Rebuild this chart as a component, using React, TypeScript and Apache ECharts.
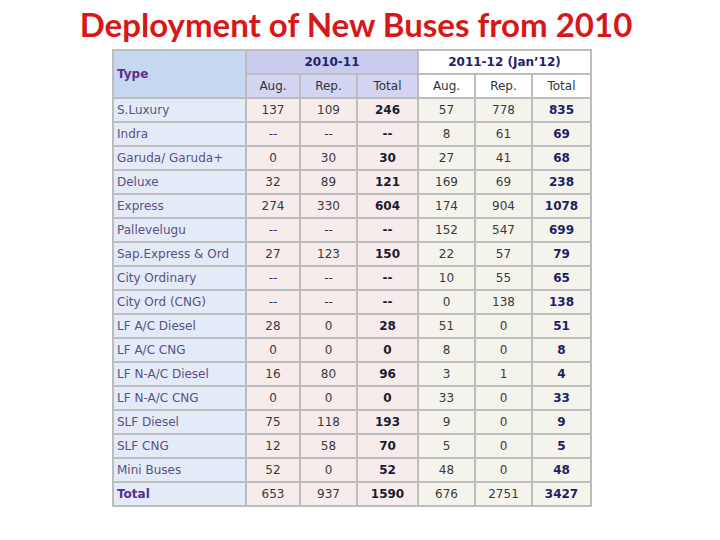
import React, { useEffect, useRef } from "react";
import * as echarts from "echarts";

const titleText = "Deployment of New Buses from 2010";
const periodLabels = ["2010-11", "2011-12 (Jan\u201912)"];
const subLabels = ["Aug.", "Rep.", "Total"];
const typeHeader = "Type";
const types = [
  "S.Luxury",
  "Indra",
  "Garuda/ Garuda+",
  "Deluxe",
  "Express",
  "Pallevelugu",
  "Sap.Express & Ord",
  "City Ordinary",
  "City Ord (CNG)",
  "LF A/C Diesel",
  "LF A/C CNG",
  "LF N-A/C Diesel",
  "LF N-A/C CNG",
  "SLF Diesel",
  "SLF CNG",
  "Mini Buses",
];
const aug1011: (number | null)[] = [137, null, 0, 32, 274, null, 27, null, null, 28, 0, 16, 0, 75, 12, 52];
const rep1011: (number | null)[] = [109, null, 30, 89, 330, null, 123, null, null, 0, 0, 80, 0, 118, 58, 0];
const tot1011: (number | null)[] = [246, null, 30, 121, 604, null, 150, null, null, 28, 0, 96, 0, 193, 70, 52];
const aug1112: (number | null)[] = [57, 8, 27, 169, 174, 152, 22, 10, 0, 51, 8, 3, 33, 9, 5, 48];
const rep1112: (number | null)[] = [778, 61, 41, 69, 904, 547, 57, 55, 138, 0, 0, 1, 0, 0, 0, 0];
const tot1112: (number | null)[] = [835, 69, 68, 238, 1078, 699, 79, 65, 138, 51, 8, 4, 33, 9, 5, 48];
const totalLabel = "Total";
const grandTotals = [653, 937, 1590, 676, 2751, 3427];

// layout (grid units = pixels inside the table grid)
const colEdges = [0, 133, 187, 244, 305, 362, 419, 478];

const FONT = "DejaVu Sans";
const BORDER = "#bdbdbd";

type Cell = {
  c: number;
  r: number;
  cs: number;
  rs: number;
  text: string;
  fill: string;
  color: string;
  bold: boolean;
  left: boolean;
  size: number;
};

const fmt = (v: number | null) => (v === null ? "--" : String(v));

function buildCells(): Cell[] {
  const cells: Cell[] = [];
  cells.push({ c: 0, r: 0, cs: 1, rs: 2, text: typeHeader, fill: "#c6d8f0", color: "#5b2d8e", bold: true, left: true, size: 12 });
  cells.push({ c: 1, r: 0, cs: 3, rs: 1, text: periodLabels[0], fill: "#c9cbee", color: "#1f236b", bold: true, left: false, size: 12 });
  cells.push({ c: 4, r: 0, cs: 3, rs: 1, text: periodLabels[1], fill: "#ffffff", color: "#1f236b", bold: true, left: false, size: 12 });
  subLabels.forEach((s, i) => {
    cells.push({ c: 1 + i, r: 1, cs: 1, rs: 1, text: s, fill: "#d3d5f2", color: "#333333", bold: false, left: false, size: 12 });
    cells.push({ c: 4 + i, r: 1, cs: 1, rs: 1, text: s, fill: "#ffffff", color: "#333333", bold: false, left: false, size: 12 });
  });
  const cols = [aug1011, rep1011, tot1011, aug1112, rep1112, tot1112];
  types.forEach((t, i) => {
    const r = 2 + i;
    cells.push({ c: 0, r, cs: 1, rs: 1, text: t, fill: "#e2ebf7", color: "#5e5082", bold: false, left: true, size: 12 });
    cols.forEach((arr, j) => {
      const isTot = j === 2 || j === 5;
      cells.push({
        c: 1 + j,
        r,
        cs: 1,
        rs: 1,
        text: fmt(arr[i]),
        fill: j < 3 ? "#f6ecec" : "#f4f4ed",
        color: isTot ? (j === 2 ? "#1c1c30" : "#1c1f66") : "#3a3a3a",
        bold: isTot,
        left: false,
        size: 12,
      });
    });
  });
  const rt = 2 + types.length;
  cells.push({ c: 0, r: rt, cs: 1, rs: 1, text: totalLabel, fill: "#e2ebf7", color: "#5b2d8e", bold: true, left: true, size: 12 });
  grandTotals.forEach((v, j) => {
    const isTot = j === 2 || j === 5;
    cells.push({
      c: 1 + j,
      r: rt,
      cs: 1,
      rs: 1,
      text: String(v),
      fill: j < 3 ? "#f6ecec" : "#f4f4ed",
      color: isTot ? (j === 2 ? "#1c1c30" : "#1c1f66") : "#3a3a3a",
      bold: isTot,
      left: false,
      size: 12,
    });
  });
  return cells;
}

export default function App() {
  const ref = useRef<HTMLDivElement>(null);
  useEffect(() => {
    if (!ref.current) return;
    const chart = echarts.init(ref.current, null, { renderer: "svg" });
    const cells = buildCells();
    const nRows = 2 + types.length + 1;
    const titleFont = "bold 33px Lato";
    chart.setOption({
      animation: false,
      backgroundColor: "#ffffff",
      graphic: [
        {
          type: "text",
          x: 356,
          y: 7,
          style: {
            text: titleText,
            font: titleFont,
            fill: "#d81818",
            textAlign: "center",
            textVerticalAlign: "top",
            shadowColor: "rgba(110,110,110,0.6)",
            shadowOffsetX: 2,
            shadowOffsetY: 2,
            shadowBlur: 1,
          },
        },
      ],
      grid: { left: 113, top: 50, width: 478, height: 456 },
      xAxis: { type: "value", min: 0, max: colEdges[colEdges.length - 1], show: false },
      yAxis: { type: "value", min: 0, max: nRows, inverse: true, show: false },
      series: [
        {
          type: "custom",
          coordinateSystem: "cartesian2d",
          data: cells.map((c) => [c.c, c.r, c.cs, c.rs]),
          renderItem: (params: any, api: any) => {
            const cell = cells[params.dataIndex];
            const p0 = api.coord([colEdges[cell.c], cell.r]);
            const p1 = api.coord([colEdges[cell.c + cell.cs], cell.r + cell.rs]);
            return {
              type: "rect",
              shape: { x: p0[0], y: p0[1], width: p1[0] - p0[0], height: p1[1] - p0[1] },
              style: { fill: cell.fill, stroke: BORDER, lineWidth: 2 },
              textContent: {
                style: {
                  text: cell.text,
                  fill: cell.color,
                  fontFamily: FONT,
                  fontSize: cell.size,
                  fontWeight: cell.bold ? "bold" : "normal",
                },
              },
              textConfig: cell.left
                ? { position: "insideLeft", distance: 5 }
                : { position: "inside" },
            };
          },
        },
      ],
    });
    return () => chart.dispose();
  }, []);
  return (
    <div
      ref={ref}
      style={{ position: "absolute", left: 0, top: 0, width: 720, height: 540 }}
    />
  );
}
